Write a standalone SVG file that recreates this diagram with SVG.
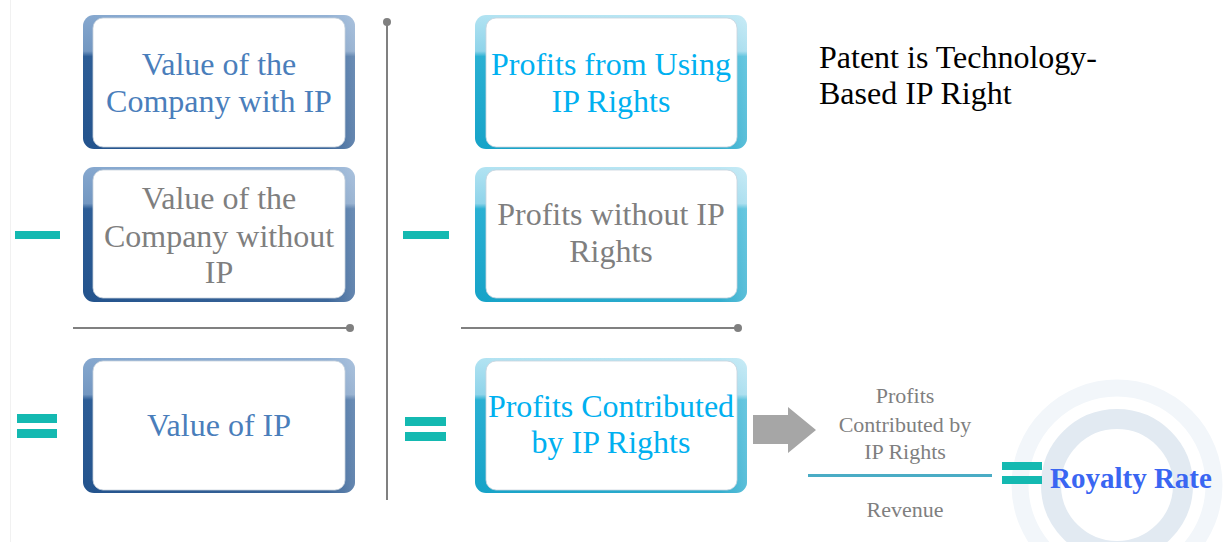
<svg xmlns="http://www.w3.org/2000/svg" width="1227" height="542" viewBox="0 0 1227 542">
  <defs>
    <linearGradient id="gBlueV" x1="0" y1="0" x2="0" y2="1">
      <stop offset="0" stop-color="#86a8cf"/>
      <stop offset="0.27" stop-color="#7397c1"/>
      <stop offset="0.31" stop-color="#2d5d96"/>
      <stop offset="1" stop-color="#23538d"/>
    </linearGradient>
    <linearGradient id="gCyanV" x1="0" y1="0" x2="0" y2="1">
      <stop offset="0" stop-color="#b2e3f2"/>
      <stop offset="0.27" stop-color="#8fd4ea"/>
      <stop offset="0.31" stop-color="#2ab0d3"/>
      <stop offset="1" stop-color="#16a3c8"/>
    </linearGradient>
    <linearGradient id="gSheen" x1="0" y1="0" x2="1" y2="0">
      <stop offset="0" stop-color="#ffffff" stop-opacity="0"/>
      <stop offset="0.9" stop-color="#ffffff" stop-opacity="0.12"/>
      <stop offset="1" stop-color="#ffffff" stop-opacity="0.3"/>
    </linearGradient>
    <style>
      .frameB { fill: url(#gBlueV); }
      .frameC { fill: url(#gCyanV); }
      .sheen { fill: url(#gSheen); }
      .inner { fill: #ffffff; stroke: #c9d3dd; stroke-width: 0.8; }
      .t { font-family: "Liberation Serif", "Times New Roman", serif; font-size: 32px; text-anchor: middle; }
      .blue { fill: #4a7ebb; }
      .cyan { fill: #00b0f0; }
      .gray { fill: #7f7f7f; }
      .small { font-family: "Liberation Serif", "Times New Roman", serif; font-size: 22px; text-anchor: middle; fill: #7f7f7f; }
      .note { font-family: "Liberation Serif", "Times New Roman", serif; font-size: 32px; fill: #000000; }
      .op { fill: #14b9b1; }
      .rule { stroke: #808080; stroke-width: 2; fill: none; }
      .dot { fill: #808080; }
    </style>
  </defs>

  <rect width="1227" height="542" fill="#ffffff"/>
  <line x1="10.5" y1="0" x2="10.5" y2="542" stroke="#f1f1f1" stroke-width="1"/>

  <!-- background rings -->
  <g id="rings">
    <circle cx="1117" cy="485" r="97" fill="none" stroke="#f2f6fa" stroke-width="17"/>
    <circle cx="1117" cy="485" r="66" fill="none" stroke="#e2eaf2" stroke-width="20"/>
  </g>

  <!-- connectors / rules -->
  <g id="connectors">
    <line class="rule" x1="387" y1="22" x2="387" y2="500"/>
    <circle class="dot" cx="387" cy="22" r="4"/>
    <line class="rule" x1="73" y1="328" x2="350" y2="328"/>
    <circle class="dot" cx="350" cy="328" r="4"/>
    <line class="rule" x1="461" y1="328" x2="738" y2="328"/>
    <circle class="dot" cx="738" cy="328" r="4"/>
    <polygon points="753,415 788,415 788,407 816,430 788,453 788,444 753,444" fill="#a6a6a6"/>
    <rect x="808" y="474" width="184" height="3" fill="#4aacc5"/>
  </g>

  <!-- operators -->
  <g id="operators">
    <rect class="op" x="15" y="231" width="45" height="8"/>
    <rect class="op" x="403" y="231" width="46" height="8"/>
    <rect class="op" x="17" y="414" width="40" height="9"/>
    <rect class="op" x="17" y="429" width="40" height="9"/>
    <rect class="op" x="405" y="417" width="41" height="9"/>
    <rect class="op" x="405" y="432" width="41" height="9"/>
    <rect class="op" x="1002" y="462" width="40" height="8"/>
    <rect class="op" x="1002" y="476" width="40" height="8"/>
  </g>

  <!-- left column -->
  <g id="node-value-with-ip">
    <rect class="frameB" x="83" y="15" width="272" height="134" rx="11"/>
    <rect class="sheen" x="83" y="15" width="272" height="134" rx="11"/>
    <rect class="inner" x="93" y="18" width="252" height="129" rx="10"/>
    <text class="t blue" x="219" y="75">Value of the</text>
    <text class="t blue" x="219" y="112">Company with IP</text>
  </g>
  <g id="node-value-without-ip">
    <rect class="frameB" x="83" y="167" width="272" height="135" rx="11"/>
    <rect class="sheen" x="83" y="167" width="272" height="135" rx="11"/>
    <rect class="inner" x="93" y="170" width="252" height="128" rx="10"/>
    <text class="t gray" x="219" y="209">Value of the</text>
    <text class="t gray" x="219" y="247">Company without</text>
    <text class="t gray" x="219" y="283">IP</text>
  </g>
  <g id="node-value-of-ip">
    <rect class="frameB" x="83" y="358" width="272" height="135" rx="11"/>
    <rect class="sheen" x="83" y="358" width="272" height="135" rx="11"/>
    <rect class="inner" x="93" y="361" width="252" height="129" rx="10"/>
    <text class="t blue" x="219" y="436">Value of IP</text>
  </g>

  <!-- right column -->
  <g id="node-profits-using">
    <rect class="frameC" x="475" y="15" width="272" height="134" rx="11"/>
    <rect class="sheen" x="475" y="15" width="272" height="134" rx="11"/>
    <rect class="inner" x="486" y="18" width="251" height="129" rx="10"/>
    <text class="t cyan" x="611" y="75">Profits from Using</text>
    <text class="t cyan" x="611" y="112">IP Rights</text>
  </g>
  <g id="node-profits-without">
    <rect class="frameC" x="475" y="167" width="272" height="135" rx="11"/>
    <rect class="sheen" x="475" y="167" width="272" height="135" rx="11"/>
    <rect class="inner" x="486" y="170" width="251" height="128" rx="10"/>
    <text class="t gray" x="611" y="225">Profits without IP</text>
    <text class="t gray" x="611" y="262">Rights</text>
  </g>
  <g id="node-profits-contributed">
    <rect class="frameC" x="475" y="358" width="272" height="135" rx="11"/>
    <rect class="sheen" x="475" y="358" width="272" height="135" rx="11"/>
    <rect class="inner" x="486" y="361" width="251" height="129" rx="10"/>
    <text class="t cyan" x="611" y="417">Profits Contributed</text>
    <text class="t cyan" x="611" y="453">by IP Rights</text>
  </g>

  <!-- fraction -->
  <g id="node-fraction">
    <text class="small" x="905" y="403">Profits</text>
    <text class="small" x="905" y="432">Contributed by</text>
    <text class="small" x="905" y="459">IP Rights</text>
    <text class="small" x="905" y="517">Revenue</text>
  </g>

  <g id="node-royalty-rate">
    <text x="1050" y="488" font-family="'Liberation Serif', 'Times New Roman', serif" font-size="29" font-weight="bold" fill="#3a66f2">Royalty Rate</text>
  </g>

  <g id="node-patent-note">
    <text class="note" x="819" y="68">Patent is Technology-</text>
    <text class="note" x="819" y="104">Based IP Right</text>
  </g>
</svg>
